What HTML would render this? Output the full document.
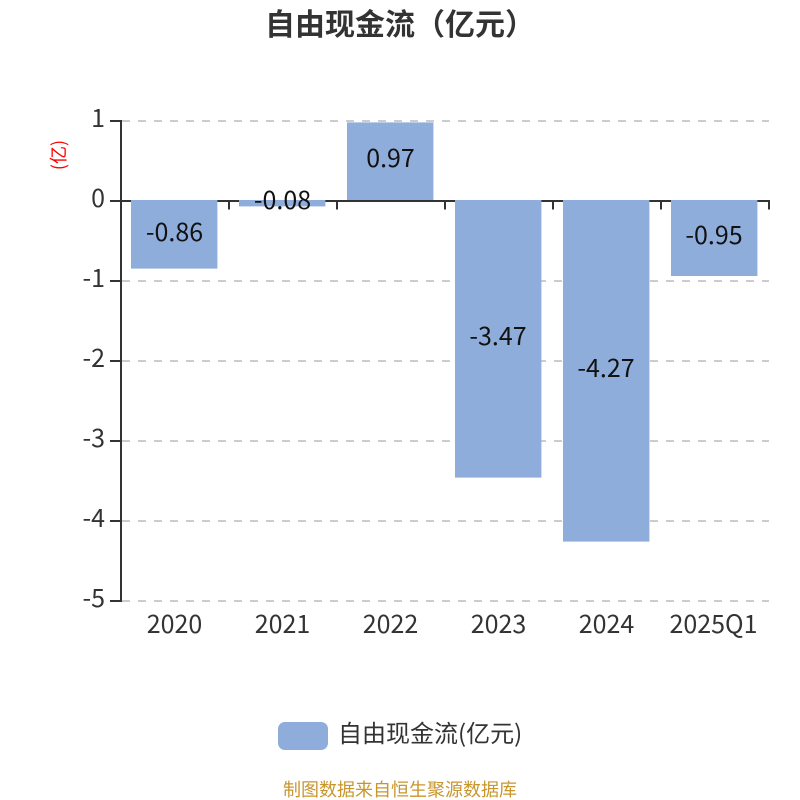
<!DOCTYPE html>
<html><head><meta charset="utf-8"><style>
html,body{margin:0;padding:0;background:#fff;width:800px;height:800px;overflow:hidden}
svg{display:block}
text{font-family:"Liberation Sans","Noto Sans CJK SC",sans-serif}
.n{font-family:"Noto Sans CJK SC",sans-serif;font-weight:400}
</style></head><body>
<svg width="800" height="800" viewBox="0 0 800 800" xmlns="http://www.w3.org/2000/svg">
<rect width="800" height="800" fill="#fff"/>
<text x="400" y="35" font-size="30" font-weight="700" fill="#333" text-anchor="middle" style="font-family:'Noto Sans CJK SC',sans-serif">自由现金流（亿元）</text>
<g stroke="#ccc" stroke-width="2" stroke-dasharray="8 8" fill="none">
<path d="M122 121H769"/><path d="M122 281H769"/><path d="M122 361H769"/><path d="M122 441H769"/><path d="M122 521H769"/><path d="M122 601H769"/>
</g>
<g stroke="#333" stroke-width="2" fill="none">
<path d="M121 120V602"/>
<path d="M110 121H121M110 201H121M110 281H121M110 361H121M110 441H121M110 521H121M110 601H121"/>
<path d="M121 201H770"/>
<path d="M229 201V209.5M337 201V209.5M445 201V209.5M553 201V209.5M661 201V209.5M769 201V209.5"/>
</g>
<g fill="#8eadda">
<rect x="131" y="200" width="86.4" height="68.6"/>
<rect x="239" y="200" width="86.4" height="6.4"/>
<rect x="347" y="122.4" width="86.4" height="77.6"/>
<rect x="455" y="200" width="86.4" height="277.6"/>
<rect x="563" y="200" width="86.4" height="341.6"/>
<rect x="671" y="200" width="86.4" height="76"/>
</g>
<g font-size="25" fill="#333" text-anchor="end">
<text class="n" x="105" y="127">1</text>
<text class="n" x="105" y="207">0</text>
<text class="n" x="105" y="287">-1</text>
<text class="n" x="105" y="367">-2</text>
<text class="n" x="105" y="447">-3</text>
<text class="n" x="105" y="527">-4</text>
<text class="n" x="105" y="607">-5</text>
</g>
<g font-size="25" fill="#333" text-anchor="middle">
<text class="n" x="174.5" y="633">2020</text>
<text class="n" x="282.5" y="633">2021</text>
<text class="n" x="390.5" y="633">2022</text>
<text class="n" x="498.5" y="633">2023</text>
<text class="n" x="606.5" y="633">2024</text>
<text class="n" x="713.5" y="633">2025Q1</text>
</g>
<g font-size="25" fill="#111" text-anchor="middle">
<text class="n" x="174.5" y="241">-0.86</text>
<text class="n" x="282.5" y="209">-0.08</text>
<text class="n" x="390.5" y="167">0.97</text>
<text class="n" x="498" y="345">-3.47</text>
<text class="n" x="606" y="377">-4.27</text>
<text class="n" x="714" y="244">-0.95</text>
</g>
<text transform="translate(65 155) rotate(-90)" font-size="18" fill="#f00" text-anchor="middle" style="font-family:'Noto Sans CJK SC',sans-serif">(亿)</text>
<rect x="278" y="722" width="50" height="28" rx="7" ry="7" fill="#8eadda"/>
<text x="338" y="742" font-size="24" fill="#333" style="font-family:'Noto Sans CJK SC',sans-serif">自由现金流(亿元)</text>
<text x="400" y="796" font-size="18" fill="#c8962d" text-anchor="middle" style="font-family:'Noto Sans CJK SC',sans-serif">制图数据来自恒生聚源数据库</text>
</svg>
</body></html>
